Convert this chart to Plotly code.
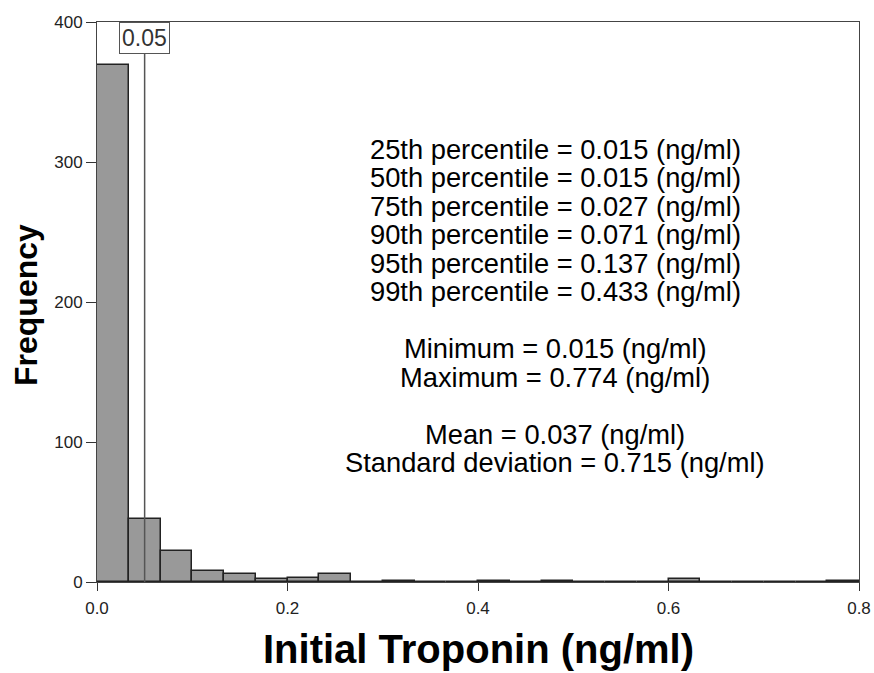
import plotly.graph_objects as go

# ---- data ----
bin_width = 1 / 30
bin_starts = [i / 30 for i in range(24)]
counts = [369, 45, 22, 8, 6, 2, 3, 6, 0, 1, 0, 0, 1, 0, 1, 0, 0, 0, 2, 0, 0, 0, 0, 1]
ref_value = 0.05
ref_label = "0.05"
x_ticks = [0.0, 0.2, 0.4, 0.6, 0.8]
x_tick_labels = ["0.0", "0.2", "0.4", "0.6", "0.8"]
y_ticks = [0, 100, 200, 300, 400]
stats_lines = [
    "25th percentile = 0.015 (ng/ml)",
    "50th percentile = 0.015 (ng/ml)",
    "75th percentile = 0.027 (ng/ml)",
    "90th percentile = 0.071 (ng/ml)",
    "95th percentile = 0.137 (ng/ml)",
    "99th percentile = 0.433 (ng/ml)",
    "",
    "Minimum = 0.015 (ng/ml)",
    "Maximum = 0.774 (ng/ml)",
    "",
    "Mean = 0.037 (ng/ml)",
    "Standard deviation = 0.715 (ng/ml)",
]

FONT = "Liberation Sans, Arial, sans-serif"
W, H = 874, 673
ML, MR, MT, MB = 97, 15, 22, 91
PH = H - MT - MB
PW = W - ML - MR

fig = go.Figure()
fig.add_trace(go.Bar(
    x=bin_starts, y=counts, width=bin_width, offset=0,
    marker=dict(color="#999999", line=dict(color="#222222", width=1.5)),
    hoverinfo="skip", showlegend=False,
))

fig.add_shape(type="line", xref="x", yref="paper", x0=ref_value, x1=ref_value,
              y0=0, y1=1, line=dict(color="#555555", width=1.5))

annotations = [
    dict(text=ref_label, xref="x", yref="paper", x=ref_value, y=1, yanchor="top",
         xanchor="center", showarrow=False, bgcolor="white", bordercolor="#555555",
         borderwidth=1, borderpad=2, font=dict(family=FONT, size=23, color="#333333")),
    dict(text="<b>Initial Troponin (ng/ml)</b>", xref="paper", yref="paper", x=(478 - ML) / PW,
         y=-(649 - (H - MB)) / PH, yanchor="middle", xanchor="center", showarrow=False,
         borderpad=0, font=dict(family=FONT, size=40, color="black")),
    dict(text="<b>Frequency</b>", xref="paper", yref="paper", x=-(ML - 26) / PW,
         y=(H - MB - 305) / PH, yanchor="middle", xanchor="center", showarrow=False,
         textangle=-90, font=dict(family=FONT, size=32, color="black")),
]

line_top = 149
line_step = 28.5
for i, t in enumerate(stats_lines):
    if not t:
        continue
    ypix = line_top + i * line_step
    annotations.append(dict(
        text=t, xref="paper", yref="paper", x=(555 - ML) / PW,
        y=(H - MB - ypix) / PH, xanchor="center", yanchor="middle", showarrow=False,
        font=dict(family=FONT, size=27.3, color="black")))

fig.update_layout(
    width=W, height=H,
    margin=dict(l=ML, r=MR, t=MT, b=MB, pad=0, autoexpand=False),
    plot_bgcolor="white", paper_bgcolor="white",
    bargap=0,
    annotations=annotations,
    xaxis=dict(range=[0, 0.8], tickvals=x_ticks, ticktext=x_tick_labels,
               ticks="outside", ticklen=8, tickcolor="#333333", showgrid=False,
               zeroline=False, showline=True, linecolor="#444444", linewidth=1,
               mirror=True, ticklabelstandoff=3, automargin=False,
               tickfont=dict(family=FONT, size=17, color="#222222")),
    yaxis=dict(range=[0, 400], tickvals=y_ticks, ticks="outside", ticklen=10,
               tickcolor="#333333", showgrid=False, zeroline=False, showline=True,
               linecolor="#444444", linewidth=1, mirror=True, automargin=False,
               tickfont=dict(family=FONT, size=17, color="#222222")),
)

fig.write_html("out.html", config={"displayModeBar": False},
               post_script="document.body.style.margin='0';document.body.style.overflow='hidden';")
